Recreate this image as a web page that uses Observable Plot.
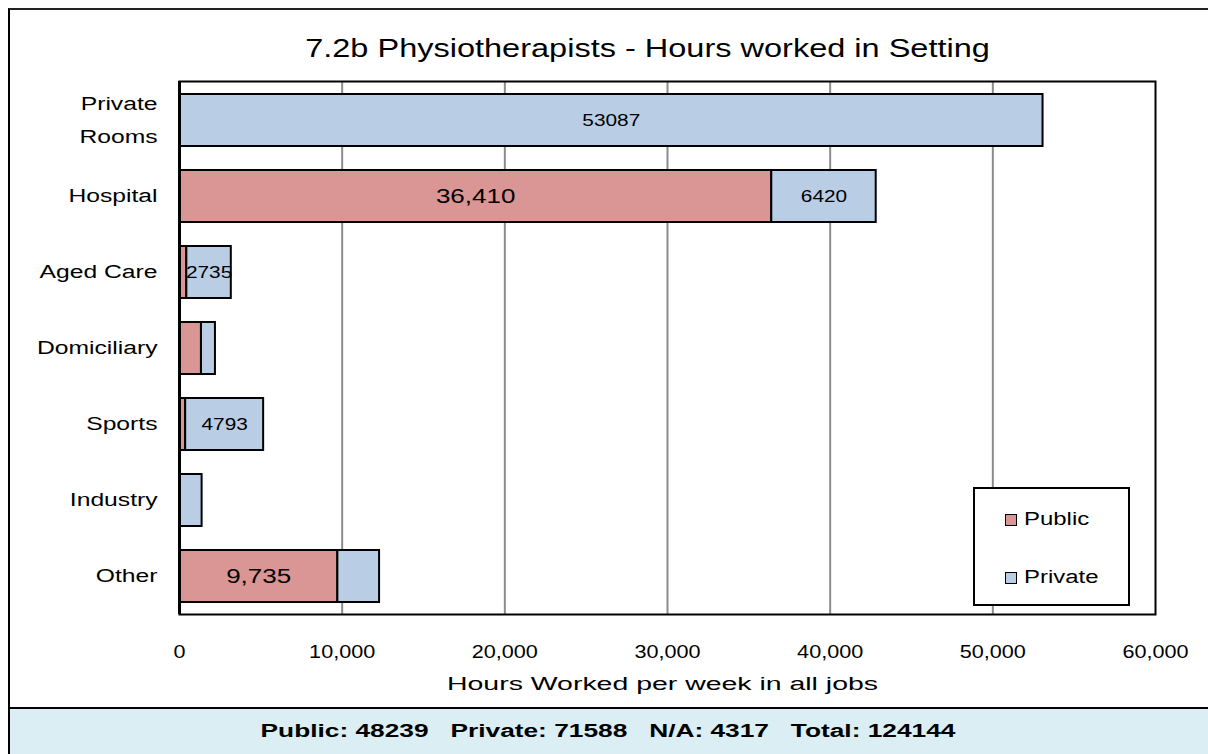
<!DOCTYPE html>
<html>
<head>
<meta charset="utf-8">
<script src="https://cdn.jsdelivr.net/npm/d3@7"></script>
<script src="https://cdn.jsdelivr.net/npm/@observablehq/plot@0.6"></script>
<style>
  html, body { margin: 0; padding: 0; background: #fff; }
  body { width: 1208px; height: 754px; position: relative; overflow: hidden; font-family: "Liberation Sans", Arial, sans-serif; }
  #chart { position: absolute; left: 0; top: 0; }
  #border { position: absolute; left: 8px; top: 8px; width: 1210px; height: 698px; border-left: 2px solid #000; border-top: 2px solid #222; pointer-events: none; }
  #legend { position: absolute; left: 973px; top: 487px; width: 153px; height: 115px; border: 2px solid #000; background: #fff; }
  .item { position: absolute; left: 30px; display: flex; align-items: center; font-size: 18px; color: #000; }
  .item span { display: inline-block; transform: scaleX(1.33); transform-origin: left center; }
  .sw { width: 10px; height: 10px; border: 1.5px solid #000; margin-right: 7px; }
  #footer { position: absolute; left: 8px; top: 707px; width: 1210px; height: 47px; background: #DAEEF3; border-top: 2px solid #000; border-left: 2px solid #000; box-sizing: border-box; font-weight: bold; font-size: 18px; line-height: 45px; color: #000; white-space: pre; }
  #footer span { position: absolute; left: 598px; top: 0; transform: translateX(-50%) scaleX(1.46); }
</style>
</head>
<body>
<div id="chart"></div>
<div id="border"></div>
<div id="legend"></div>
<div id="footer"><span id="footerText"></span></div>
<script>
const settings = ["Private Rooms", "Hospital", "Aged Care", "Domiciliary", "Sports", "Industry", "Other"];
const publicHours = [0, 36410, 450, 1350, 380, 0, 9735];
const privateHours = [53087, 6420, 2735, 860, 4793, 1390, 2565];
const types = ["Public", "Private"];
const typeColors = ["#D99694", "#B9CDE5"];
const xTicks = [0, 10000, 20000, 30000, 40000, 50000, 60000];
const publicLabelled = ["Hospital", "Other"];
const privateLabelled = ["Private Rooms", "Hospital", "Aged Care", "Sports"];
const titleText = "7.2b Physiotherapists - Hours worked in Setting";
const xLabel = "Hours Worked per week in all jobs";
const footerLabels = ["Public", "Private", "N/A", "Total"];
const footerValues = [48239, 71588, 4317, 124144];

const data = [];
settings.forEach((s, i) => {
  data.push({setting: s, type: "Public", value: publicHours[i]});
  data.push({setting: s, type: "Private", value: privateHours[i]});
});
const twoLine = "Private Rooms";
const singleLine = settings.filter(s => s !== twoLine);
const yLines = new Set(settings.flatMap(s => s === twoLine ? s.split(" ") : [s]));

const yLab = {frameAnchor: "left", textAnchor: "end", dx: -22, fontSize: 18};

const chart = Plot.plot({
  width: 1208,
  height: 708,
  marginLeft: 179,
  marginRight: 53,
  marginTop: 81,
  marginBottom: 94,
  style: {fontFamily: "'Liberation Sans', Arial, sans-serif", fontSize: "18px", color: "#000", background: "transparent"},
  x: {domain: [0, 60000], ticks: xTicks},
  y: {domain: settings, paddingInner: 0.32, paddingOuter: 0.16, axis: null},
  color: {domain: types, range: typeColors},
  marks: [
    Plot.gridX(xTicks.slice(1, -1), {stroke: "#8c8c8c", strokeOpacity: 1, strokeWidth: 2}),
    Plot.barX(data, {y: "setting", x: "value", fill: "type", stroke: "#000", strokeWidth: 2, filter: d => d.value > 0}),
    Plot.text(data, Plot.stackX({y: "setting", x: "value", fontSize: 20,
      text: d => d.type === "Public" && publicLabelled.includes(d.setting) ? d3.format(",")(d.value) : ""})),
    Plot.text(data, Plot.stackX({y: "setting", x: "value", fontSize: 16,
      text: d => d.type === "Private" && privateLabelled.includes(d.setting) ? String(d.value) : ""})),
    Plot.frame({stroke: "#000", strokeWidth: 2}),
    Plot.ruleX([0], {stroke: "#000", strokeWidth: 3}),
    Plot.axisX({ticks: xTicks, tickFormat: d3.format(","), tickSize: 0, tickPadding: 31, fontSize: 18, label: null}),
    Plot.text(singleLine, {...yLab, y: d => d, text: d => d}),
    Plot.text([twoLine], {...yLab, y: d => d, text: d => d.split(" ")[0], dy: -16.5}),
    Plot.text([twoLine], {...yLab, y: d => d, text: d => d.split(" ")[1], dy: 16.5}),
    Plot.text([titleText], {frameAnchor: "top", lineAnchor: "middle", dy: -33, dx: -20, fontSize: 25}),
    Plot.text([xLabel], {frameAnchor: "bottom", lineAnchor: "middle", dy: 70, dx: -5, fontSize: 18})
  ]
});
document.getElementById("chart").appendChild(chart);

// widen glyphs to match the reference's horizontally stretched lettering
function widenEl(t, k) {
  const s = t.textContent;
  if (!s) return;
  const len = t.getComputedTextLength();
  t.setAttribute("textLength", (len * k).toFixed(1));
  t.setAttribute("lengthAdjust", "spacingAndGlyphs");
}
chart.querySelectorAll('g[aria-label="x-axis tick label"] text').forEach(t => widenEl(t, 1.2));
chart.querySelectorAll('g[aria-label="text"] text').forEach(t => {
  const s = t.textContent;
  if (s === titleText) widenEl(t, 1.30);
  else if (s === xLabel) widenEl(t, 1.58);
  else if (yLines.has(s)) widenEl(t, 1.37);
  else widenEl(t, 1.30);
});

const legend = document.getElementById("legend");
types.forEach((t, i) => {
  const item = document.createElement("div");
  item.className = "item";
  item.style.top = (20 + i * 58) + "px";
  const sw = document.createElement("div");
  sw.className = "sw";
  sw.style.background = typeColors[i];
  const lab = document.createElement("span");
  lab.textContent = t;
  item.appendChild(sw);
  item.appendChild(lab);
  legend.appendChild(item);
});

document.getElementById("footerText").textContent =
  footerLabels.map((l, i) => `${l}: ${footerValues[i]}`).join("   ");
</script>
</body>
</html>
